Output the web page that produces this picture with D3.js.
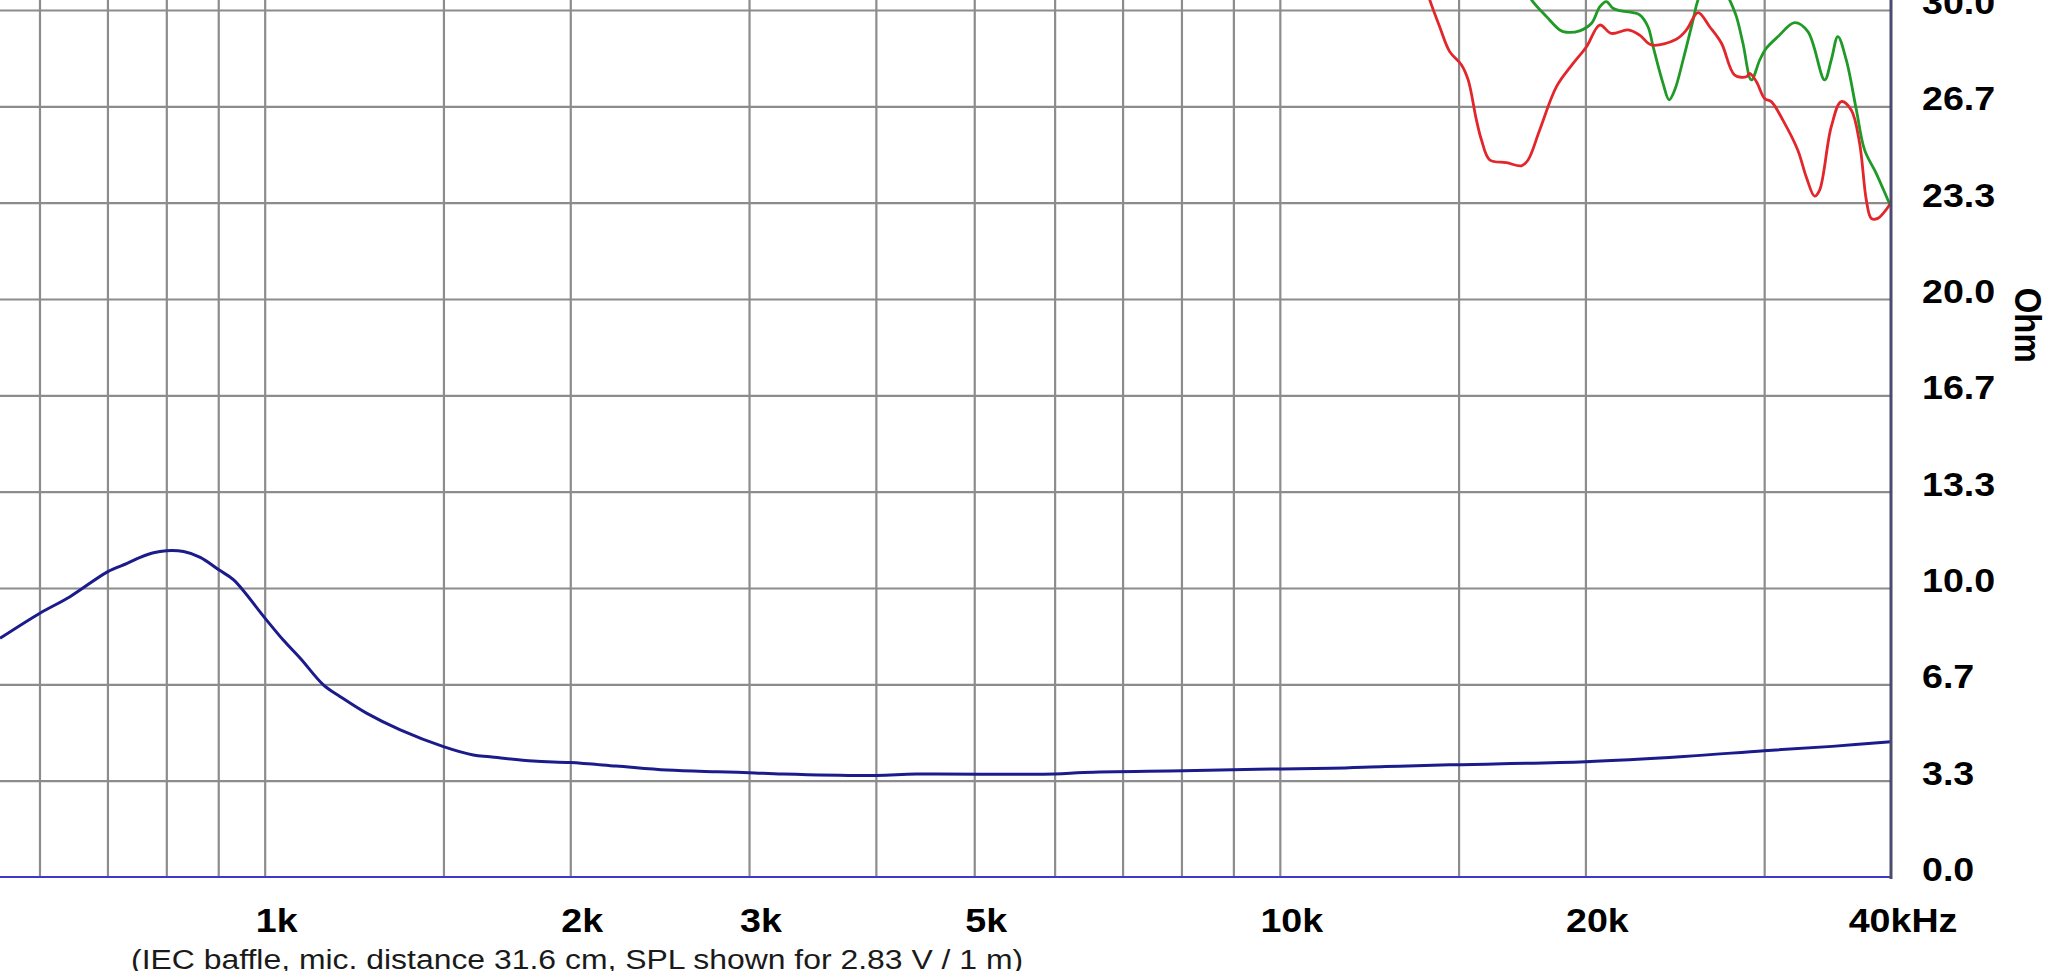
<!DOCTYPE html>
<html>
<head>
<meta charset="utf-8">
<script src="https://cdn.jsdelivr.net/npm/d3@7"></script>
<style>
  html, body { margin: 0; padding: 0; background: #ffffff; }
  svg { display: block; }
  text { font-family: "Liberation Sans", Arial, sans-serif; }
</style>
</head>
<body>
<svg id="chart" width="2048" height="971"></svg>
<script>
// ---------- data ----------
const xGridFreqs = [600, 700, 800, 900, 1000, 1500, 2000, 3000, 4000, 5000, 6000, 7000, 8000, 9000, 10000, 15000, 20000, 30000];
const xTickValues = [1000, 2000, 3000, 5000, 10000, 20000, 40000];
const xTickLabels = ["1k", "2k", "3k", "5k", "10k", "20k", "40kHz"];
const yTickValues = [0, 10/3, 20/3, 10, 40/3, 50/3, 20, 70/3, 80/3, 30];
const yTickLabels = ["0.0", "3.3", "6.7", "10.0", "13.3", "16.7", "20.0", "23.3", "26.7", "30.0"];
const yAxisTitle = "Ohm";
const caption = "(IEC baffle, mic. distance 31.6 cm, SPL shown for 2.83 V / 1 m)";

// impedance curve (blue) : frequency in Hz, value in Ohm
const blueFreq = [548.6, 600, 643, 700, 732, 754, 777, 800, 832, 864, 902, 932, 1001, 1043, 1084, 1143, 1187, 1261, 1360, 1500, 1605, 1667, 1839, 2000, 2219, 2490, 2790, 3000, 3241, 4000, 4386, 6000, 6408, 8033, 9500, 11230, 12700, 14700, 20000, 25000, 30000, 35000, 40000];
const blueOhm  = [8.26, 9.12, 9.70, 10.56, 10.85, 11.06, 11.22, 11.29, 11.26, 11.06, 10.62, 10.28, 8.95, 8.20, 7.57, 6.64, 6.24, 5.66, 5.09, 4.51, 4.22, 4.16, 4.01, 3.96, 3.84, 3.70, 3.64, 3.61, 3.56, 3.51, 3.56, 3.56, 3.62, 3.68, 3.73, 3.76, 3.82, 3.88, 3.99, 4.17, 4.37, 4.52, 4.68];

// red curve
const redFreq = [13900, 14050, 14370, 14700, 15100, 15330, 15620, 15800, 16100, 16720, 17300, 17560, 18030, 18730, 19450, 20050, 20660, 21210, 22030, 22620, 23230, 24580, 25150, 25820, 26510, 27230, 28060, 28820, 29030, 29480, 30030, 30490, 31300, 32380, 33000, 33630, 34020, 34930, 35730, 36550, 37250, 37820, 38250, 38820, 40000];
const redOhm  = [30.9, 30.35, 29.42, 28.56, 28.10, 27.58, 26.19, 25.50, 24.81, 24.72, 24.61, 24.81, 25.85, 27.35, 28.15, 28.73, 29.48, 29.19, 29.31, 29.13, 28.79, 28.99, 29.31, 29.91, 29.42, 28.85, 27.75, 27.69, 27.81, 27.52, 26.94, 26.83, 26.19, 25.15, 24.23, 23.56, 23.77, 25.96, 26.83, 26.54, 25.39, 23.43, 22.79, 22.79, 23.33];

// green curve
const greenFreq = [17430, 17700, 18310, 18870, 19160, 19740, 20280, 20660, 20970, 21290, 21620, 22280, 22620, 23050, 23320, 23850, 24180, 24490, 24960, 25530, 25820, 26750, 27740, 28170, 28590, 29140, 29700, 30150, 30960, 32150, 33130, 34410, 34930, 35460, 36140, 36980, 37680, 38680, 39720, 40000];
const greenOhm  = [30.8, 30.35, 29.77, 29.31, 29.23, 29.28, 29.54, 30.11, 30.29, 30.06, 29.98, 29.91, 29.83, 29.42, 28.73, 27.46, 26.89, 27.23, 28.27, 29.65, 30.35, 31.5, 30.35, 29.77, 28.85, 27.58, 28.27, 28.68, 29.08, 29.56, 29.25, 27.58, 28.27, 29.08, 28.27, 26.54, 25.15, 24.35, 23.43, 23.2];

// ---------- layout ----------
const svg = d3.select("#chart");
const plotRight = 1891, plotBottom = 877, plotTopValueY = 10;
const x = d3.scaleLog().domain([548.6, 40000]).range([0, plotRight]);
const y = d3.scaleLinear().domain([0, 30]).range([plotBottom, plotTopValueY]);
const stretch = 1.14;

svg.append("rect").attr("width", 2048).attr("height", 971).attr("fill", "#ffffff");

svg.append("defs").append("clipPath").attr("id", "plotClip")
  .append("rect").attr("x", 0).attr("y", 0).attr("width", plotRight).attr("height", plotBottom);

// vertical grid
const gx = svg.append("g").attr("transform", `translate(0,${plotBottom})`)
  .call(d3.axisBottom(x).tickValues(xGridFreqs).tickSize(-plotBottom).tickFormat(""));
gx.select(".domain").remove();
gx.selectAll(".tick line").attr("stroke", "#8c8c8c").attr("stroke-width", 2.2);

// horizontal grid
const gy = svg.append("g")
  .call(d3.axisLeft(y).tickValues(yTickValues.slice(1)).tickSize(-plotRight).tickFormat(""));
gy.select(".domain").remove();
gy.selectAll(".tick line").attr("stroke", "#8c8c8c").attr("stroke-width", 2.2);

// curves
const line = d3.line().x(d => x(d[0])).y(d => y(d[1])).curve(d3.curveCatmullRom.alpha(0.5));
const plot = svg.append("g").attr("clip-path", "url(#plotClip)");
const series = [
  { f: blueFreq, v: blueOhm, color: "#1b1b8c", w: 3 },
  { f: greenFreq, v: greenOhm, color: "#1f9a26", w: 2.8 },
  { f: redFreq, v: redOhm, color: "#e3262b", w: 2.8 }
];
series.forEach(s => {
  plot.append("path")
    .datum(s.f.map((fr, i) => [fr, s.v[i]]))
    .attr("fill", "none")
    .attr("stroke", s.color)
    .attr("stroke-width", s.w)
    .attr("stroke-linejoin", "round")
    .attr("d", line);
});

// axes lines
svg.append("line").attr("x1", 0).attr("x2", plotRight).attr("y1", plotBottom).attr("y2", plotBottom)
  .attr("stroke", "#3a3ad2").attr("stroke-width", 2);
svg.append("line").attr("x1", plotRight).attr("x2", plotRight).attr("y1", 0).attr("y2", plotBottom + 2)
  .attr("stroke", "#4b4b70").attr("stroke-width", 3);

// x tick labels
svg.append("g").selectAll("text").data(xTickValues).join("text")
  .attr("transform", d => `translate(${x(d) + 12},932) scale(${stretch},1)`)
  .attr("text-anchor", "middle")
  .attr("font-size", 33).attr("font-weight", "bold").attr("fill", "#000")
  .text((d, i) => xTickLabels[i]);

// y tick labels (right side)
svg.append("g").selectAll("text").data(yTickValues).join("text")
  .attr("transform", d => `translate(${plotRight + 31},${y(d) + 4}) scale(${stretch},1)`)
  .attr("text-anchor", "start")
  .attr("font-size", 33).attr("font-weight", "bold").attr("fill", "#000")
  .text((d, i) => yTickLabels[i]);

// y axis title
svg.append("text")
  .attr("transform", `translate(${plotRight + 124},${y(16.67) - 70}) scale(${stretch},1) rotate(90)`)
  .attr("text-anchor", "middle")
  .attr("font-size", 33).attr("font-weight", "bold").attr("fill", "#000")
  .text(yAxisTitle);

// caption
svg.append("text")
  .attr("transform", `translate(131,969) scale(${stretch},1)`)
  .attr("text-anchor", "start")
  .attr("font-size", 28).attr("fill", "#1a1a1a")
  .text(caption);
</script>
</body>
</html>
